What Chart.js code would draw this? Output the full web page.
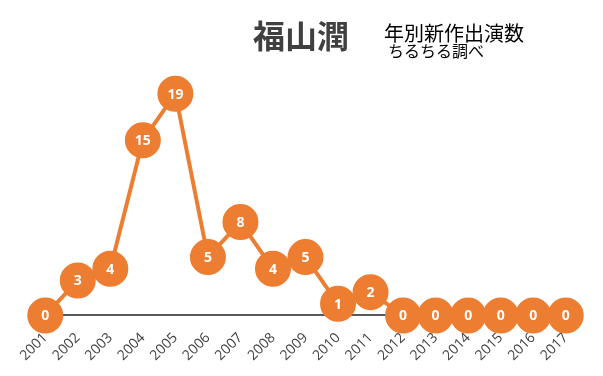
<!DOCTYPE html>
<html>
<head>
<meta charset="utf-8">
<script src="https://cdn.jsdelivr.net/npm/chart.js@4"></script>
<style>
  html, body { margin: 0; padding: 0; background: #fff; }
  #wrap { width: 603px; height: 376px; }
</style>
</head>
<body>
<div id="wrap"><canvas id="lineChart" width="603" height="376"></canvas></div>
<script>
const years = ['2001', '2002', '2003', '2004', '2005', '2006', '2007', '2008', '2009',
  '2010', '2011', '2012', '2013', '2014', '2015', '2016', '2017'];
const counts = [0, 3, 4, 15, 19, 5, 8, 4, 5, 1, 2, 0, 0, 0, 0, 0, 0];

const titleText = '福山潤';
const subLine1 = '年別新作出演数';
const subLine2 = 'ちるちる調べ';

const orange = '#ED7D31';

const headerPlugin = {
  id: 'header',
  afterDraw(chart) {
    const c = chart.ctx;
    c.save();
    c.fillStyle = '#404040';
    c.textBaseline = 'alphabetic';
    c.textAlign = 'center';
    c.font = 'bold 32px "Noto Sans CJK JP"';
    c.fillText(titleText, 301, 48);
    c.textAlign = 'left';
    c.fillStyle = '#000';
    c.font = '20px "Noto Sans CJK JP"';
    c.fillText(subLine1, 384, 41);
    c.font = '16px "Noto Sans CJK JP"';
    c.fillText(subLine2, 388, 57);
    c.restore();
  }
};

const valueLabels = {
  id: 'valueLabels',
  afterDatasetsDraw(chart) {
    const c = chart.ctx;
    const meta = chart.getDatasetMeta(0);
    c.save();
    c.fillStyle = '#fff';
    c.font = 'bold 14px "Open Sans"';
    c.textAlign = 'center';
    c.textBaseline = 'middle';
    meta.data.forEach((pt, i) => {
      c.fillText(String(counts[i]), pt.x, pt.y + 1);
    });
    c.restore();
  }
};

const ctx = document.getElementById('lineChart').getContext('2d');
new Chart(ctx, {
  type: 'line',
  data: {
    labels: years,
    datasets: [{
      data: counts,
      borderColor: orange,
      borderWidth: 4,
      backgroundColor: orange,
      pointBackgroundColor: orange,
      pointBorderColor: orange,
      pointRadius: 16,
      pointHoverRadius: 16,
      tension: 0,
      clip: false
    }]
  },
  options: {
    responsive: false,
    animation: false,
    events: [],
    layout: { padding: { left: 29, right: 21, top: 82, bottom: -2 } },
    plugins: {
      legend: { display: false },
      tooltip: { enabled: false }
    },
    scales: {
      x: {
        offset: true,
        grid: { display: false, drawTicks: false },
        border: { display: true, color: '#595959', width: 2 },
        ticks: {
          autoSkip: false,
          minRotation: 45,
          maxRotation: 45,
          padding: 14,
          color: '#404040',
          font: { family: '"Open Sans"', size: 14 }
        }
      },
      y: {
        display: false,
        min: 0,
        max: 20
      }
    }
  },
  plugins: [headerPlugin, valueLabels]
});
</script>
</body>
</html>
